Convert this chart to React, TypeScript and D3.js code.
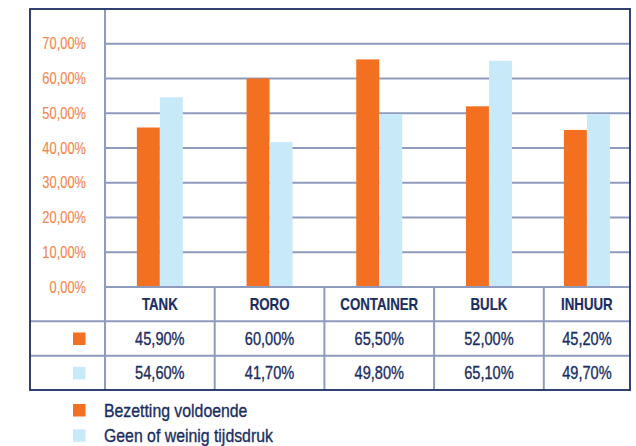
import { useEffect, useRef } from "react";
import * as d3 from "d3";

const categories = ["TANK", "RORO", "CONTAINER", "BULK", "INHUUR"];
const seriesNames = ["Bezetting voldoende", "Geen of weinig tijdsdruk"];
const bezetting = [45.9, 60.0, 65.5, 52.0, 45.2];
const tijdsdruk = [54.6, 41.7, 49.8, 65.1, 49.7];
const yTicks = [0, 10, 20, 30, 40, 50, 60, 70];

const ORANGE = "#F37021";
const BLUE = "#C8E9F8";
const NAVY = "#1B2E62";
const GRID = "#8E9BBC";
const TICK = "#F5874A";
const FONT = "'Liberation Sans', Arial, sans-serif";

const fmt = (v: number) => v.toFixed(2).replace(".", ",") + "%";

export default function App() {
  const ref = useRef<SVGSVGElement>(null);

  useEffect(() => {
    const el = ref.current;
    if (!el) return;
    const W = 636, H = 446;
    const svg = d3.select(el).attr("width", W).attr("height", H).attr("viewBox", `0 0 ${W} ${H}`);
    svg.selectAll("*").remove();

    // narrow text: squeeze Liberation Sans horizontally, thin stroke for a heavier look
    const label = (x: number, y: number, s: string, size: number, fill: string, anchor = "middle", sx = 0.82, weight = "normal", sw = 0.35) =>
      svg.append("g").attr("transform", `translate(${x},${y}) scale(${sx},1)`)
        .append("text").attr("text-anchor", anchor).attr("fill", fill).attr("font-size", size)
        .attr("stroke", fill).attr("stroke-width", sw)
        .attr("font-weight", weight).attr("font-family", FONT).text(s);

    const F = { left: 30, top: 9, right: 630, bottom: 390 };
    const plotLeft = 105;
    const zeroY = 287;
    const rowH = (F.bottom - zeroY) / 3;

    const y = d3.scaleLinear().domain([0, 80]).range([zeroY, F.top]);
    const step = 109.7;
    const x = d3.scaleBand<string>().domain(categories).range([plotLeft, plotLeft + step * categories.length]).padding(0);
    const colL = (c: string) => x(c) ?? 0;
    const colR = (c: string) => Math.min(colL(c) + step, F.right);
    const colC = (c: string) => (colL(c) + colR(c)) / 2;
    const inner = d3.scaleBand<number>().domain([0, 1]).range([-23, 23]).padding(0);

    // grid
    yTicks.filter((t) => t > 0).forEach((t) => {
      svg.append("line").attr("x1", plotLeft).attr("x2", F.right).attr("y1", y(t)).attr("y2", y(t))
        .attr("stroke", GRID).attr("stroke-width", 2);
    });
    yTicks.forEach((t) => label(86, y(t) + 5.5, fmt(t), 15.7, TICK, "end", 0.82, "normal", 0.15));

    // bars
    const series = [bezetting, tijdsdruk];
    const colors = [ORANGE, BLUE];
    series.forEach((vals, si) => {
      svg.append("g").selectAll("rect").data(vals).join("rect")
        .attr("x", (_d, i) => colC(categories[i]) + (inner(si) ?? 0))
        .attr("width", inner.bandwidth())
        .attr("y", (d) => y(d))
        .attr("height", (d) => zeroY - y(d))
        .attr("fill", colors[si]);
    });

    // table lines
    [zeroY, zeroY + rowH, zeroY + 2 * rowH].forEach((yy, i) => {
      svg.append("line").attr("x1", i === 0 ? plotLeft : F.left).attr("x2", F.right).attr("y1", yy).attr("y2", yy)
        .attr("stroke", GRID).attr("stroke-width", 2);
    });
    svg.append("line").attr("x1", plotLeft).attr("x2", plotLeft).attr("y1", F.top).attr("y2", F.bottom)
      .attr("stroke", GRID).attr("stroke-width", 2);
    categories.slice(1).forEach((c) => {
      svg.append("line").attr("x1", colL(c)).attr("x2", colL(c)).attr("y1", zeroY).attr("y2", F.bottom)
        .attr("stroke", GRID).attr("stroke-width", 2);
    });

    // category labels
    categories.forEach((c) => label(colC(c), zeroY + rowH / 2 + 6, c, 16.2, NAVY, "middle", 0.82, "bold", 0.2));

    // values
    series.forEach((vals, si) => {
      const rowMid = zeroY + rowH * (si + 1) + rowH / 2;
      svg.append("rect").attr("x", 73).attr("y", rowMid - 6).attr("width", 12.5).attr("height", 12.5).attr("fill", colors[si]);
      vals.forEach((v, i) => label(colC(categories[i]), rowMid + 6.5, fmt(v), 17.8, NAVY));
    });

    // frame
    svg.append("rect").attr("x", F.left).attr("y", F.top).attr("width", F.right - F.left).attr("height", F.bottom - F.top)
      .attr("fill", "none").attr("stroke", NAVY).attr("stroke-width", 1.8);

    // legend
    seriesNames.forEach((n, i) => {
      const ly = 410 + i * 25.3;
      svg.append("rect").attr("x", 73).attr("y", ly - 6).attr("width", 12.5).attr("height", 12.5).attr("fill", colors[i]);
      label(104, ly + 6.5, n, 18, NAVY, "start", 0.88);
    });
  }, []);

  return (
    <div style={{ position: "absolute", left: 0, top: 0 }}>
      <svg ref={ref} style={{ display: "block" }} />
    </div>
  );
}
